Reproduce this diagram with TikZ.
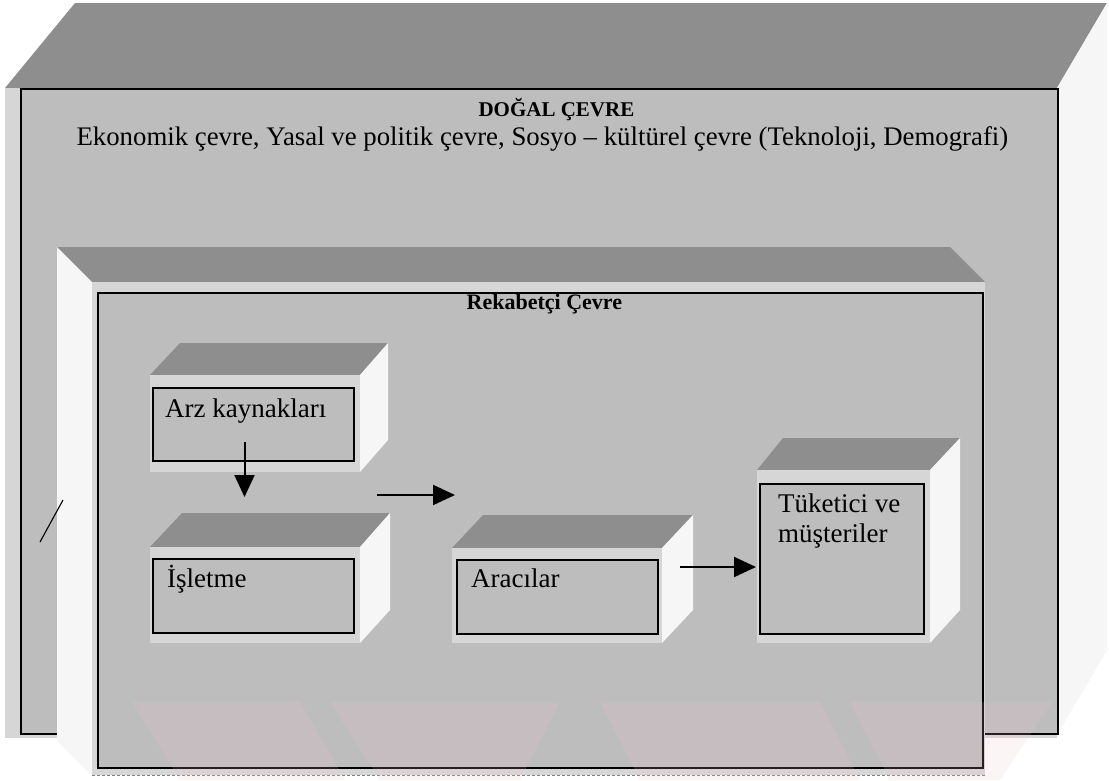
\documentclass[tikz,border=0pt]{standalone}
\usepackage{fontspec}
\setmainfont{Liberation Serif}
\usetikzlibrary{arrows.meta}

\definecolor{boxgray}{HTML}{BDBDBD}
\definecolor{topgray}{HTML}{8E8E8E}
\definecolor{rimgray}{HTML}{D6D6D6}
\definecolor{sidewhite}{HTML}{F6F6F6}
\definecolor{wmpink}{HTML}{F2C2CA}

\tikzset{
  topface/.style={fill=topgray},
  sideface/.style={fill=sidewhite},
  rimface/.style={fill=rimgray},
  textbox/.style={draw=black, line width=2pt, fill=boxgray, inner sep=0pt, anchor=north west},
  bigbox/.style={draw=black, line width=1.8pt, fill=boxgray, inner sep=0pt, anchor=north west},
  boxtext/.style={font=\fontsize{27pt}{30pt}\selectfont, anchor=base west, inner sep=0pt, align=left},
  headtext/.style={font=\bfseries\fontsize{22pt}{26pt}\selectfont, anchor=base, inner sep=0pt},
  subtext/.style={font=\fontsize{26.8pt}{30pt}\selectfont, anchor=base, inner sep=0pt},
  flow/.style={-{Triangle[length=22pt,width=20pt]}, line width=2pt},
  watermark/.style={fill=wmpink, opacity=0.16}
}

\begin{document}
\begin{tikzpicture}[x=1pt,y=-1pt]
  \useasboundingbox (0,0) rectangle (1109,780);
  \fill[white] (0,0) rectangle (1109,780);

  % outer cube: top face, right side face, front face
  \path[topface] (5,88) -- (75,3) -- (1107,3) -- (1057,88) -- cycle;
  \path[sideface] (1057,88) -- (1107,3) -- (1107,650) -- (1057,735) -- cycle;
  \path[rimface] (5,88) rectangle (1057,738);
  \node[bigbox, minimum width=1037pt, minimum height=645pt] (outer) at (20,88) {};
  \node[headtext, font=\bfseries\fontsize{21pt}{25pt}\selectfont] (outerhead) at ([xshift=17pt,yshift=-28pt]outer.north) {DOĞAL ÇEVRE};
  \node[subtext] (outersub) at ([xshift=3pt,yshift=-57pt]outer.north)
    {Ekonomik çevre, Yasal ve politik çevre, Sosyo – kültürel çevre (Teknoloji, Demografi)};

  % inner cube: top face, left side face, front face
  \path[topface] (57,247) -- (950,247) -- (985,282) -- (92,282) -- cycle;
  \path[sideface] (57,247) -- (92,282) -- (92,775) -- (57,740) -- cycle;
  \path[rimface] (92,282) rectangle (985,775);
  \draw[gray, line width=0.8pt, dash pattern=on 3pt off 2pt] (92,775) -- (985,775);
  \node[bigbox, minimum width=885pt, minimum height=475pt] (inner) at (97,292) {};
  \node[headtext] (innerhead) at ([xshift=4pt,yshift=-17pt]inner.north) {Rekabetçi Çevre};

  % small cubes
  % Arz kaynaklari
  \path[topface] (150,375) -- (180,343) -- (388,343) -- (360,375) -- cycle;
  \path[sideface] (360,375) -- (388,343) -- (388,440) -- (360,472) -- cycle;
  \path[rimface] (150,375) rectangle (360,472);
  \node[textbox, minimum width=201pt, minimum height=73pt] (arz) at (152,387) {};
  \node[boxtext] (arztext) at ([xshift=13pt,yshift=-30pt]arz.north west) {Arz kaynakları};

  % Isletme
  \path[topface] (150,547) -- (182,513) -- (390,513) -- (360,547) -- cycle;
  \path[sideface] (360,547) -- (390,513) -- (390,610) -- (360,643) -- cycle;
  \path[rimface] (150,547) rectangle (360,643);
  \node[textbox, minimum width=201pt, minimum height=74pt] (isl) at (152,558) {};
  \node[boxtext] (isltext) at ([xshift=15pt,yshift=-29pt]isl.north west) {İşletme};

  % Aracilar
  \path[topface] (452,548) -- (483,515) -- (693,515) -- (662,548) -- cycle;
  \path[sideface] (662,548) -- (693,515) -- (693,610) -- (662,643) -- cycle;
  \path[rimface] (452,548) rectangle (662,643);
  \node[textbox, minimum width=201pt, minimum height=74pt] (arac) at (456,559) {};
  \node[boxtext] (aractext) at ([xshift=15pt,yshift=-28pt]arac.north west) {Aracılar};

  % Tuketici ve musteriler (base anchor sits on the last line)
  \path[topface] (757,470) -- (783,438) -- (960,438) -- (930,470) -- cycle;
  \path[sideface] (930,470) -- (960,438) -- (960,610) -- (930,643) -- cycle;
  \path[rimface] (757,470) rectangle (930,643);
  \node[textbox, minimum width=164pt, minimum height=150pt] (tuk) at (759,483) {};
  \node[boxtext] (tuktext) at ([xshift=19pt,yshift=-59pt]tuk.north west) {Tüketici ve\\müşteriler};

  % flows
  \draw[flow] ([xshift=-9pt,yshift=20pt]arz.south) -- ([xshift=-9pt,yshift=61pt]isl.north);
  \draw[flow] ([xshift=22pt,yshift=63pt]isl.north east) -- ([xshift=-1pt,yshift=64pt]arac.north west);
  \draw[flow] ([xshift=21pt,yshift=-8pt]arac.north east) -- ([xshift=-3pt,yshift=-84pt]tuk.north west);

  % pencil stroke at the left edge
  \draw[line width=1.1pt] (40,542) -- (63,500);

  % faint stamp along the bottom
  \fill[watermark] (132,702) -- (300,702) -- (345,780) -- (180,780) -- cycle;
  \fill[watermark] (330,702) -- (560,702) -- (520,780) -- (380,780) -- cycle;
  \fill[watermark] (600,702) -- (820,702) -- (860,780) -- (640,780) -- cycle;
  \fill[watermark] (850,702) -- (1052,702) -- (1000,780) -- (890,780) -- cycle;
\end{tikzpicture}
\end{document}
